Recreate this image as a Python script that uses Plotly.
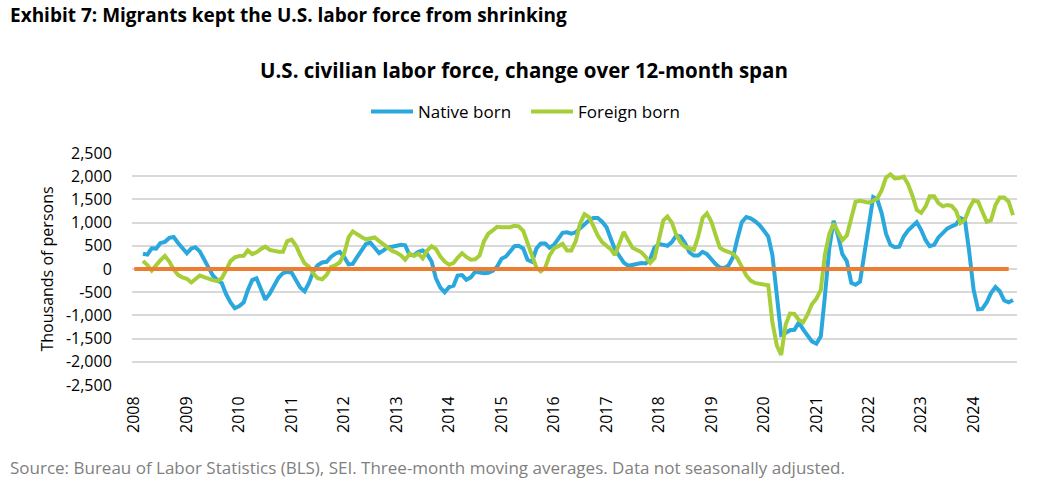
import pandas as pd
import plotly.graph_objects as go

# ---------------- data ----------------
months = pd.date_range("2008-01-01", "2024-10-01", freq="MS")

native_born = [
    # 2008
    None, None, 330, 310, 445, 440, 560, 585, 670, 690, 560, 440,
    # 2009
    340, 440, 470, 380, 190, 30, -140, -240, -305, -540, -720, -845,
    # 2010
    -800, -720, -460, -240, -200, -450, -660, -530, -360, -190, -90, -60,
    # 2011
    -80, -260, -400, -480, -300, -50, 80, 140, 155, 260, 330, 370,
    # 2012
    260, 100, 110, 260, 400, 540, 570, 440, 340, 400, 470, 480,
    # 2013
    500, 520, 510, 300, 300, 370, 400, 320, 160, -200, -400, -500,
    # 2014
    -390, -360, -140, -130, -230, -180, -60, -80, -90, -80, -40, 50,
    # 2015
    220, 270, 380, 490, 500, 440, 200, 155, 440, 550, 550, 460,
    # 2016
    520, 640, 780, 790, 760, 790, 880, 960, 1050, 1100, 1100, 1020,
    # 2017
    900, 640, 420, 280, 140, 70, 90, 130, 130, 120, 220, 460,
    # 2018
    540, 520, 500, 580, 720, 700, 560, 360, 290, 290, 370, 320,
    # 2019
    200, 100, 30, 20, 80, 260, 650, 1010, 1120, 1090, 1030, 950,
    # 2020
    830, 700, 300, -650, -1420, -1380, -1320, -1310, -1150, -1300, -1430, -1560,
    # 2021
    -1610, -1450, -600, 450, 1040, 720, 320, 170, -300, -340, -270, 300,
    # 2022
    1000, 1550, 1500, 1200, 760, 520, 470, 480, 700, 830, 920, 1010,
    # 2023
    840, 620, 490, 520, 680, 790, 870, 920, 960, 1100, 1060, 380,
    # 2024
    -450, -870, -860, -720, -520, -390, -480, -680, -720, -670,
]

foreign_born = [
    # 2008
    None, None, 170, 85, -35, 85, 190, 280, 160, -10, -130, -180,
    # 2009
    -210, -290, -230, -140, -175, -220, -240, -260, -200, -30, 170, 250,
    # 2010
    280, 285, 400, 320, 360, 430, 480, 410, 380, 370, 370, 600,
    # 2011
    635, 495, 300, 120, 50, -100, -200, -220, -130, 40, 80, 140,
    # 2012
    330, 680, 810, 740, 690, 640, 670, 680, 600, 530, 450, 390,
    # 2013
    350, 290, 200, 330, 280, 330, 230, 400, 490, 430, 270, 160,
    # 2014
    90, 130, 240, 340, 260, 200, 210, 290, 600, 760, 830, 910,
    # 2015
    900, 890, 900, 930, 920, 820, 530, 290, 30, -50, 30, 290,
    # 2016
    440, 480, 540, 400, 400, 600, 980, 1180, 1120, 930, 720, 580,
    # 2017
    510, 420, 300, 560, 800, 620, 460, 410, 360, 260, 130, 230,
    # 2018
    650, 1050, 1130, 1000, 740, 570, 480, 440, 410, 700, 1100, 1200,
    # 2019
    1020, 720, 460, 400, 360, 330, 230, 50, -140, -250, -300, -320,
    # 2020
    -330, -350, -1150, -1650, -1850, -1200, -960, -970, -1100, -1150, -980, -760,
    # 2021
    -640, -450, 300, 750, 980, 780, 620, 720, 1100, 1450, 1470, 1460,
    # 2022
    1430, 1470, 1520, 1700, 1970, 2040, 1950, 1960, 1990, 1830, 1580, 1270,
    # 2023
    1210, 1350, 1570, 1570, 1420, 1350, 1380, 1360, 1250, 990, 1060, 1300,
    # 2024
    1480, 1450, 1260, 1020, 1050, 1380, 1540, 1540, 1450, 1160,
]

zero_months = months[:-1]
zero_line = [0] * len(zero_months)

year_ticks = pd.date_range("2008-01-01", "2024-01-01", freq="YS")
year_labels = [str(d.year) for d in year_ticks]

y_ticks = [2500, 2000, 1500, 1000, 500, 0, -500, -1000, -1500, -2000, -2500]
y_labels = ["2,500", "2,000", "1,500", "1,000", "500", "0", "-500",
            "-1,000", "-1,500", "-2,000", "-2,500"]

# ---------------- layout helpers ----------------
W, H = 1038, 498
L, R, T, B = 132, 1017, 153, 385


def px_x(x):
    return (x - L) / (R - L)


def px_y(y):
    return (B - y) / (B - T)


FONT = "Open Sans"
BLUE = "#2AA7DD"
GREEN = "#A6CE39"
ORANGE = "#ED7D31"

fig = go.Figure()
fig.add_trace(go.Scatter(x=months, y=native_born, name="Native born", mode="lines",
                         line=dict(color=BLUE, width=4), connectgaps=False))
fig.add_trace(go.Scatter(x=months, y=foreign_born, name="Foreign born", mode="lines",
                         line=dict(color=GREEN, width=4), connectgaps=False))
fig.add_trace(go.Scatter(x=zero_months, y=zero_line, name="Zero", mode="lines",
                         line=dict(color=ORANGE, width=4), showlegend=False))

fig.update_layout(
    width=W, height=H,
    margin=dict(l=L, r=W - R, t=T, b=H - B),
    paper_bgcolor="white", plot_bgcolor="white",
    font=dict(family=FONT, color="#000000"),
    showlegend=True,
    legend=dict(orientation="h", x=px_x(366), xanchor="left", y=px_y(112), yanchor="middle",
                font=dict(size=17, family=FONT, color="#000000"),
                bgcolor="rgba(0,0,0,0)", itemwidth=42, traceorder="normal",
                entrywidth=103, entrywidthmode="pixels"),
    annotations=[
        dict(text="<b>Exhibit 7: Migrants kept the U.S. labor force from shrinking</b>",
             xref="paper", yref="paper", x=px_x(8), y=px_y(15), xanchor="left", yanchor="middle",
             showarrow=False, font=dict(size=19, family=FONT, color="#000000")),
        dict(text="<b>U.S. civilian labor force, change over 12-month span</b>",
             xref="paper", yref="paper", x=px_x(524), y=px_y(70), xanchor="center", yanchor="middle",
             showarrow=False, font=dict(size=20.5, family=FONT, color="#000000")),
        dict(text="Source: Bureau of Labor Statistics (BLS), SEI. Three-month moving averages. Data not seasonally adjusted.",
             xref="paper", yref="paper", x=px_x(8), y=px_y(467), xanchor="left", yanchor="middle",
             showarrow=False, font=dict(size=17, family=FONT, color="#7F7F7F")),
    ],
)

fig.update_xaxes(
    type="date",
    range=["2007-12-16", "2024-10-29"],
    tickmode="array", tickvals=year_ticks, ticktext=year_labels,
    tickangle=-90,
    tickfont=dict(size=16, family=FONT, color="#000000"),
    showgrid=False, zeroline=False, showline=False,
    ticks="outside", ticklen=4, tickcolor="rgba(0,0,0,0)",
)

fig.update_yaxes(
    range=[-2500, 2500],
    tickmode="array", tickvals=y_ticks, ticktext=y_labels,
    tickfont=dict(size=16, family=FONT, color="#000000"),
    showgrid=True, gridcolor="#D9D9D9", gridwidth=1.5,
    zeroline=False, showline=False,
    ticks="outside", ticklen=16, tickcolor="rgba(0,0,0,0)",
    title=dict(text="Thousands of persons", font=dict(size=16, family=FONT, color="#000000"),
               standoff=8),
)

fig.write_html("out.html",
               config={"displayModeBar": False},
               post_script="document.body.style.margin='0';document.body.style.padding='0';")
